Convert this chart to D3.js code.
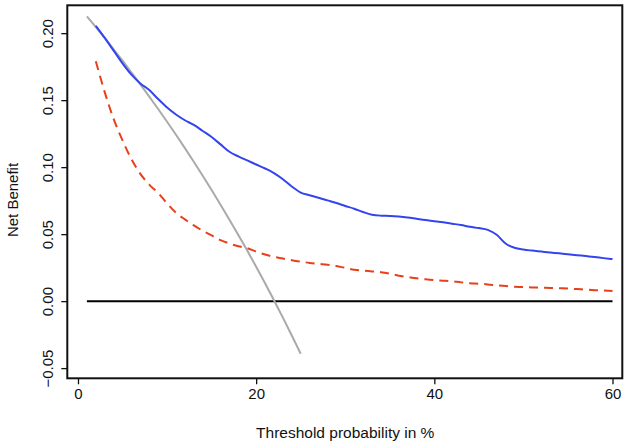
<!DOCTYPE html>
<html>
<head>
<meta charset="utf-8">
<script src="https://cdn.jsdelivr.net/npm/d3@7"></script>
<style>
  html, body { margin: 0; padding: 0; background: #fff; }
  svg text { font-family: "Liberation Sans", Arial, Helvetica, sans-serif; fill: #111; }
</style>
</head>
<body>
<svg id="chart" width="629" height="446"></svg>
<script>
// Threshold probabilities (%)
const thresholdsAll = [1,2,3,4,5,6,7,8,9,10,11,12,13,14,15,16,17,18,19,20,21,22,23,24,25];
const treatAll = [0.2126,0.2046,0.1964,0.1880,0.1795,0.1707,0.1618,0.1527,0.1434,0.1339,0.1242,0.1142,0.1040,0.0936,0.0829,0.0720,0.0608,0.0494,0.0377,0.0256,0.0133,0.0006,-0.0123,-0.0257,-0.0393];

const thresholdsModel = [2,3,4,5,6,7,8,9,10,11,12,13,14,15,16,17,18,19,20,21,22,23,24,25,26,27,28,29,30,31,32,33,34,35,36,37,38,39,40,41,42,43,44,45,46,47,48,49,50,51,52,53,54,55,56,57,58,59,60];
const modelBlue = [0.2055,0.1965,0.187,0.1775,0.169,0.1625,0.1575,0.1508,0.1445,0.1393,0.135,0.1315,0.127,0.1225,0.117,0.1115,0.108,0.105,0.102,0.099,0.0956,0.091,0.0855,0.081,0.079,0.0772,0.0752,0.0732,0.071,0.069,0.0665,0.0645,0.0638,0.0636,0.0632,0.0625,0.0615,0.0605,0.0597,0.0588,0.0578,0.0568,0.0555,0.0545,0.0532,0.0495,0.0430,0.0398,0.0385,0.0377,0.0370,0.0363,0.0357,0.0350,0.0343,0.0336,0.0329,0.0321,0.0314];
const modelRed = [0.179,0.156,0.136,0.120,0.106,0.095,0.087,0.0807,0.073,0.066,0.061,0.0565,0.0525,0.049,0.0455,0.043,0.041,0.0395,0.037,0.0348,0.033,0.0318,0.0305,0.0295,0.0285,0.0278,0.0272,0.0262,0.0248,0.0235,0.0228,0.0222,0.0216,0.0205,0.0190,0.0180,0.0170,0.0163,0.0157,0.0153,0.0148,0.0140,0.0134,0.0130,0.0125,0.0118,0.0112,0.0108,0.0105,0.0102,0.0100,0.0098,0.0096,0.0094,0.0090,0.0086,0.0082,0.0079,0.0076];

const thresholdsNone = [1,60];
const treatNone = [0,0];

const xTicks = [0,20,40,60];
const yTicks = [-0.05,0,0.05,0.10,0.15,0.20];
const xLabel = "Threshold probability in %";
const yLabel = "Net Benefit";

const svg = d3.select("#chart");
const x = d3.scaleLinear().domain([-1.2, 61.1]).range([67.3, 622.3]);
const y = d3.scaleLinear().domain([-0.0576, 0.2208]).range([378.3, 5.3]);

const line = d3.line().x(d => x(d[0])).y(d => y(d[1]));
const smooth = d3.line().curve(d3.curveMonotoneX).x(d => x(d[0])).y(d => y(d[1]));
const zip = (a, b) => a.map((v, i) => [v, b[i]]);

// curves
svg.append("path").datum(zip(thresholdsNone, treatNone)).attr("d", line)
  .attr("fill", "none").attr("stroke", "#000").attr("stroke-width", 2);
svg.append("path").datum(zip(thresholdsAll, treatAll)).attr("d", smooth)
  .attr("fill", "none").attr("stroke", "#aaaaaa").attr("stroke-width", 2);
svg.append("path").datum(zip(thresholdsModel, modelRed)).attr("d", smooth)
  .attr("fill", "none").attr("stroke", "#e8401c").attr("stroke-width", 2)
  .attr("stroke-dasharray", "9,6");
svg.append("path").datum(zip(thresholdsModel, modelBlue)).attr("d", smooth)
  .attr("fill", "none").attr("stroke", "#3344ee").attr("stroke-width", 2);

// frame
const [x0, x1] = x.range(), [y0, y1] = y.range();
svg.append("rect").attr("x", x0).attr("y", y1).attr("width", x1 - x0).attr("height", y0 - y1)
  .attr("fill", "none").attr("stroke", "#111").attr("stroke-width", 2);

// x axis
const xAxis = svg.append("g").attr("transform", `translate(0,${y0})`)
  .call(d3.axisBottom(x).tickValues(xTicks).tickSize(6).tickPadding(4).tickFormat(d3.format("d")));
xAxis.select(".domain").remove();
xAxis.selectAll("line").attr("stroke", "#111").attr("stroke-width", 1.3);
xAxis.selectAll("text").attr("font-size", 15).attr("fill", "#111").style("font-family", "Liberation Sans, Arial, sans-serif");

// y axis
const yAxis = svg.append("g").attr("transform", `translate(${x0},0)`)
  .call(d3.axisLeft(y).tickValues(yTicks).tickSize(6).tickFormat(d3.format(".2f")));
yAxis.select(".domain").remove();
yAxis.selectAll("line").attr("stroke", "#111").attr("stroke-width", 1.3);
yAxis.selectAll("text")
  .attr("font-size", 15).attr("fill", "#111").style("font-family", "Liberation Sans, Arial, sans-serif")
  .attr("text-anchor", "middle").attr("x", null).attr("dy", null)
  .attr("transform", "translate(-14,0) rotate(-90)");

// axis titles
svg.append("text").attr("x", (x(0) + x(60)) / 2).attr("y", 438)
  .attr("text-anchor", "middle").attr("font-size", 15.5).text(xLabel);
svg.append("text").attr("transform", `translate(18,200) rotate(-90)`)
  .attr("text-anchor", "middle").attr("font-size", 15).text(yLabel);
</script>
</body>
</html>
